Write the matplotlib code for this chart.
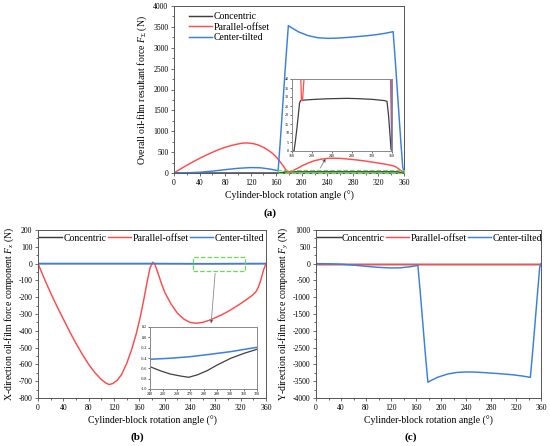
import matplotlib
matplotlib.use('Agg')
import matplotlib.pyplot as plt
from matplotlib.patches import Rectangle
from matplotlib.ticker import MultipleLocator

plt.rcParams['font.family'] = ['Liberation Serif', 'DejaVu Serif']
plt.rcParams['mathtext.fontset'] = 'custom'
plt.rcParams['mathtext.it'] = 'Liberation Serif:italic'
plt.rcParams['mathtext.rm'] = 'Liberation Serif'
plt.rcParams['axes.unicode_minus'] = False

labels = ['Concentric', 'Parallel-offset', 'Center-tilted']
colors = ['#3f3f3f', '#ff4b4b', '#3a7fe0']

# ---------------- (a) resultant force ----------------
ang_a_con = [0, 160, 164, 167, 170, 173, 175, 177, 185, 200, 230, 260, 271, 290, 320, 345, 350, 353, 356, 358, 360]
fa_con = [0, 0, 0, 6, 13, 21, 26.5, 28.0, 28.3, 28.6, 29.0, 29.2, 29.25, 29.1, 28.7, 28.0, 27.6, 20, 9, 1, 0]

ang_a_par = [0, 10, 20, 30, 40, 50, 60, 70, 80, 90, 100, 106, 112, 118, 125, 132, 140, 148, 155, 162, 168,
             172, 174, 177, 179, 181, 184, 188, 195, 200, 210, 220, 230, 240, 250, 260, 270, 280, 290, 300,
             310, 320, 330, 338, 344, 348, 352, 355, 357, 359, 360]
fa_par = [0, 95, 185, 270, 350, 425, 495, 560, 615, 660, 695, 712, 720, 716, 700, 670, 615, 540, 460, 350, 230,
          150, 100, 45, 28, 28, 40, 70, 125, 170, 240, 295, 330, 350, 355, 350, 338, 322, 305, 285,
          262, 238, 212, 190, 168, 140, 95, 60, 40, 10, 0]

ang_a_tilt = [0, 20, 40, 60, 80, 100, 120, 135, 150, 158, 163, 167, 171, 175, 179, 185, 195, 210, 225, 240,
              255, 270, 285, 300, 315, 330, 343, 347, 351, 355, 358, 359.5, 360]
fa_tilt = [0, 5, 18, 45, 80, 112, 130, 125, 95, 70, 55, 900, 1800, 2700, 3530, 3470, 3380, 3290, 3240, 3225,
           3230, 3245, 3265, 3285, 3310, 3345, 3385, 2550, 1650, 750, 150, 40, 0]

# ---------------- (b) X-direction component ----------------
ang_b_con = [0, 60, 120, 180, 240, 247.5, 255, 262.6, 268.9, 275.2, 282.7, 290.3, 300.4, 310.4, 320, 340, 360]
fx_con = [0, 0, 0, 0, -0.568, -0.645, -0.709, -0.748, -0.773, -0.728, -0.645, -0.535, -0.405, -0.309, -0.231, -0.1, 0]

ang_b_par = [0, 10, 20, 30, 40, 50, 60, 70, 80, 90, 100, 106, 112, 118, 125, 132, 140, 148, 155, 162, 168,
             173, 177, 181, 184, 188, 195, 200, 210, 220, 230, 240, 250, 260, 270, 280, 290, 300,
             310, 320, 330, 338, 344, 348, 352, 356, 360]
fx_par = [0, -90, -175, -255, -330, -405, -475, -540, -600, -650, -690, -708, -720, -714, -695, -660, -595, -510,
          -420, -310, -195, -95, -25, 8, 0, -40, -120, -170, -240, -295, -330, -350, -355, -350, -338, -322,
          -305, -285, -262, -238, -212, -190, -168, -140, -95, -40, 0]

ang_b_tilt = [0, 60, 120, 180, 240, 255, 270, 285, 300, 320, 340, 360]
fx_tilt = [0, 0, 0, 0, -0.425, -0.405, -0.375, -0.328, -0.278, -0.193, -0.1, 0]

# ---------------- (c) Y-direction component ----------------
ang_c_con = [0, 90, 180, 270, 360]
fy_con = [0, 0, 0, 0, 0]

ang_c_par = [0, 90, 180, 270, 360]
fy_par = [0, 0, 0, 0, 0]

ang_c_tilt = [0, 20, 40, 60, 80, 100, 120, 135, 150, 158, 163, 167, 171, 175, 179, 185, 195, 210, 225, 240,
              255, 270, 285, 300, 315, 330, 343, 347, 351, 355, 358, 360]
fy_tilt = [0, -5, -18, -45, -80, -112, -130, -125, -95, -70, -50, -900, -1800, -2700, -3530, -3470, -3380,
           -3290, -3240, -3225, -3230, -3245, -3265, -3285, -3310, -3345, -3385, -2550, -1650, -750, -100, 0]

W, H = 550, 446
fig = plt.figure(figsize=(W / 100, H / 100), dpi=100)


def px_axes(l, t, r, b):
    return fig.add_axes([l / W, 1 - b / H, (r - l) / W, (b - t) / H])


spine_c = '#555555'
LW = 1.05


def style(ax, size=5.5, major=2.5, minor=1.4):
    for s in ax.spines.values():
        s.set_linewidth(0.7)
        s.set_color(spine_c)
    ax.tick_params(which='both', direction='out', top=False, right=False,
                   width=0.6, color=spine_c, labelsize=size, pad=1.5)
    ax.tick_params(which='major', length=major)
    ax.tick_params(which='minor', length=minor)


# ---- (a)
ax_a = px_axes(174, 6, 404, 173)
ax_a.plot(ang_a_con, fa_con, color=colors[0], lw=LW, label=labels[0])
ax_a.plot(ang_a_par, fa_par, color=colors[1], lw=LW, label=labels[1])
ax_a.plot(ang_a_tilt, fa_tilt, color=colors[2], lw=LW, label=labels[2])
ax_a.set_xlim(0, 360)
ax_a.set_ylim(0, 4000)
ax_a.xaxis.set_major_locator(MultipleLocator(40))
ax_a.xaxis.set_minor_locator(MultipleLocator(20))
ax_a.yaxis.set_major_locator(MultipleLocator(500))
ax_a.yaxis.set_minor_locator(MultipleLocator(250))
style(ax_a)
ax_a.set_xlabel('Cylinder-block rotation angle (°)', fontsize=7, labelpad=3)
ax_a.set_ylabel(r'Overall oil-film resultant force $F_{\Sigma}$ (N)', fontsize=7, labelpad=3)
ax_a.legend(loc='upper left', bbox_to_anchor=(0.05, 0.985), frameon=False, fontsize=7,
            handlelength=2.3, handletextpad=0.2, labelspacing=0.15, borderaxespad=0)
ax_a.add_patch(Rectangle((162, -5), 198, 65, fill=False, ec='#66dd55', lw=0.9, ls='--', zorder=5, clip_on=False))
ax_a.annotate('', xy=(239.5, 410), xytext=(227, 62),
              arrowprops=dict(arrowstyle='-|>', ec='#8a8a8a', fc='black', lw=0.6, mutation_scale=5))

ins_a = px_axes(292, 79, 392, 151)
ins_a.plot(ang_a_con, fa_con, color=colors[0], lw=0.9)
ins_a.plot(ang_a_par, fa_par, color=colors[1], lw=0.9)
ins_a.plot(ang_a_tilt, fa_tilt, color=colors[2], lw=0.9)
ins_a.set_xlim(160, 360)
ins_a.set_ylim(0, 40)
ins_a.xaxis.set_major_locator(MultipleLocator(40))
ins_a.yaxis.set_major_locator(MultipleLocator(5))
style(ins_a, size=3, major=1.2, minor=0.8)
ins_a.tick_params(pad=0.8)
for s in ins_a.spines.values():
    s.set_color('#888888')

# ---- (b)
ax_b = px_axes(38, 230, 266, 398)
ax_b.plot(ang_b_con, fx_con, color=colors[0], lw=LW, label=labels[0])
ax_b.plot(ang_b_par, fx_par, color=colors[1], lw=LW, label=labels[1])
ax_b.plot(ang_b_tilt, fx_tilt, color=colors[2], lw=LW, label=labels[2])
ax_b.set_xlim(0, 360)
ax_b.set_ylim(-800, 200)
ax_b.xaxis.set_major_locator(MultipleLocator(40))
ax_b.xaxis.set_minor_locator(MultipleLocator(20))
ax_b.yaxis.set_major_locator(MultipleLocator(100))
ax_b.yaxis.set_minor_locator(MultipleLocator(50))
style(ax_b)
ax_b.set_xlabel('Cylinder-block rotation angle (°)', fontsize=7, labelpad=3)
ax_b.set_ylabel(r'X-direction oil-film force component $F_{x}$ (N)', fontsize=7, labelpad=2)
ax_b.legend(loc='upper left', bbox_to_anchor=(-0.012, 1.0), ncol=3, frameon=False, fontsize=7,
            handlelength=2.4, handletextpad=0.15, columnspacing=0.1, borderaxespad=0)
ax_b.add_patch(Rectangle((245, -42), 82, 82, fill=False, ec='#66dd55', lw=0.9, ls='--', zorder=5))
ax_b.annotate('', xy=(273, -374), xytext=(280, -42),
              arrowprops=dict(arrowstyle='-|>', ec='#8a8a8a', fc='black', lw=0.6, mutation_scale=5))

ins_b = px_axes(150, 327, 257, 389)
ins_b.plot(ang_b_con, fx_con, color=colors[0], lw=0.9)
ins_b.plot(ang_b_tilt, fx_tilt, color=colors[2], lw=1.1)
ins_b.set_xlim(240, 320)
ins_b.set_ylim(-1.0, 0.2)
ins_b.xaxis.set_major_locator(MultipleLocator(10))
ins_b.yaxis.set_major_locator(MultipleLocator(0.2))
style(ins_b, size=3, major=1.2, minor=0.8)
ins_b.tick_params(pad=0.8)
for s in ins_b.spines.values():
    s.set_color('#888888')

# ---- (c)
ax_c = px_axes(316, 230, 541, 398)
ax_c.plot(ang_c_con, fy_con, color=colors[0], lw=LW, label=labels[0])
ax_c.plot(ang_c_par, fy_par, color=colors[1], lw=LW, label=labels[1])
ax_c.plot(ang_c_tilt, fy_tilt, color=colors[2], lw=LW, label=labels[2])
ax_c.set_xlim(0, 360)
ax_c.set_ylim(-4000, 1000)
ax_c.xaxis.set_major_locator(MultipleLocator(40))
ax_c.xaxis.set_minor_locator(MultipleLocator(20))
ax_c.yaxis.set_major_locator(MultipleLocator(500))
ax_c.yaxis.set_minor_locator(MultipleLocator(250))
style(ax_c)
ax_c.set_xlabel('Cylinder-block rotation angle (°)', fontsize=7, labelpad=3)
ax_c.set_ylabel(r'Y-direction oil-film force component $F_{y}$ (N)', fontsize=7, labelpad=2)
ax_c.legend(loc='upper left', bbox_to_anchor=(-0.012, 1.0), ncol=3, frameon=False, fontsize=7,
            handlelength=2.4, handletextpad=0.15, columnspacing=0.1, borderaxespad=0)

fig.text(270 / W, 1 - 213 / H, '(a)', ha='center', va='center', fontsize=8, fontweight='bold')
fig.text(137 / W, 1 - 437 / H, '(b)', ha='center', va='center', fontsize=8, fontweight='bold')
fig.text(411 / W, 1 - 437 / H, '(c)', ha='center', va='center', fontsize=8, fontweight='bold')

fig.savefig('out.png', dpi=100)
